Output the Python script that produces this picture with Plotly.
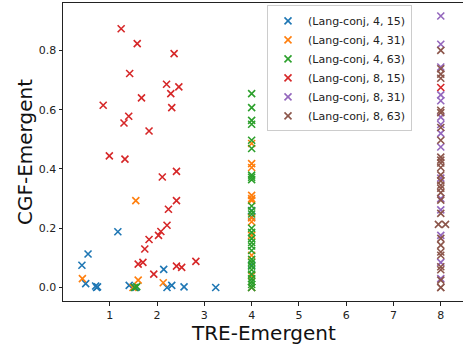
import plotly.graph_objects as go

# ---- data ----
names = ["(Lang-conj, 4, 15)", "(Lang-conj, 4, 31)", "(Lang-conj, 4, 63)",
         "(Lang-conj, 8, 15)", "(Lang-conj, 8, 31)", "(Lang-conj, 8, 63)"]
colors = ["#1f77b4", "#ff7f0e", "#2ca02c", "#d62728", "#9467bd", "#8c564b"]

blue_x = [0.41, 0.54, 0.49, 0.70, 0.72, 0.74, 1.17, 1.41, 1.55, 2.14, 2.21, 2.31, 2.57, 3.24, 4, 4, 4, 4]
blue_y = [0.075, 0.113, 0.013, 0.005, 0.0, 0.002, 0.188, 0.007, 0.0, 0.061, 0.0, 0.007, 0.002, 0.0,
          0.26, 0.238, 0.075, 0.0]

orange_x = [0.42, 1.55, 1.60, 2.13, 1.49] + [4] * 12
orange_y = [0.030, 0.293, 0.025, 0.016, 0.0,
            0.486, 0.418, 0.405, 0.311, 0.300, 0.294, 0.235, 0.222, 0.176, 0.109, 0.04, 0.0]

green_x = [1.52, 1.57] + [4] * 27
green_y = [0.0, 0.003,
           0.654, 0.607, 0.564, 0.551, 0.497, 0.469, 0.379, 0.372, 0.364, 0.275, 0.258, 0.248,
           0.20, 0.186, 0.165, 0.152, 0.14, 0.125, 0.095, 0.085, 0.072, 0.06, 0.045, 0.03,
           0.02, 0.01, 0.0]

red_x = [1.24, 1.58, 2.36, 1.42, 2.20, 2.46, 2.29, 1.67, 0.86, 2.31, 1.40, 1.30, 1.83, 0.99, 1.32,
         2.41, 2.11, 2.41, 2.24, 2.21, 2.08, 2.03, 1.83, 1.74, 1.70, 1.60, 1.93, 2.41, 2.52, 2.82, 8]
red_y = [0.873, 0.823, 0.789, 0.722, 0.686, 0.677, 0.654, 0.640, 0.615, 0.607, 0.578, 0.555, 0.528,
         0.444, 0.433, 0.392, 0.373, 0.293, 0.264, 0.210, 0.189, 0.176, 0.162, 0.130, 0.085, 0.079,
         0.045, 0.072, 0.068, 0.088, 0.675]

purple_x = [8] * 15
purple_y = [0.916, 0.821, 0.744, 0.65, 0.63, 0.575, 0.55, 0.52, 0.474, 0.369, 0.30, 0.262, 0.176,
            0.085, 0.03]

brown_x = [8] * 28 + [7.95, 8.10]
brown_y = [0.80, 0.738, 0.72, 0.706, 0.598, 0.59, 0.54, 0.497, 0.44, 0.43, 0.42, 0.405, 0.38, 0.36,
           0.345, 0.335, 0.32, 0.295, 0.25, 0.166, 0.143, 0.12, 0.109, 0.07, 0.06, 0.025, 0.0, 0.0,
           0.213, 0.213]

xs = [blue_x, orange_x, green_x, red_x, purple_x, brown_x]
ys = [blue_y, orange_y, green_y, red_y, purple_y, brown_y]

x_ticks = [1, 2, 3, 4, 5, 6, 7, 8]
y_ticks = [0.0, 0.2, 0.4, 0.6, 0.8]

FONT = "DejaVu Sans"
TXT = "#222222"

fig = go.Figure()
for name, c, x, y in zip(names, colors, xs, ys):
    fig.add_trace(go.Scatter(
        x=x, y=y, mode="markers", name=name,
        marker=dict(symbol="x-thin", size=7, color=c, line=dict(color=c, width=1.6)),
    ))

fig.update_layout(
    width=463, height=350,
    margin=dict(l=63, r=0, t=3, b=49),
    paper_bgcolor="white", plot_bgcolor="white",
    font=dict(family=FONT, size=11, color=TXT),
    showlegend=True,
    legend=dict(
        x=0.51, y=0.992, xanchor="left", yanchor="top",
        bgcolor="rgba(255,255,255,0.8)", bordercolor="#cccccc", borderwidth=1,
        font=dict(family=FONT, size=11, color=TXT),
    ),
    xaxis=dict(
        range=[0.01, 8.47], tickvals=x_ticks, ticktext=[str(v) for v in x_ticks],
        showgrid=False, zeroline=False, showline=True, linecolor=TXT, linewidth=1,
        mirror=True, ticks="outside", ticklen=3.5, tickwidth=1, tickcolor=TXT,
        tickfont=dict(family=FONT, size=11, color=TXT),
    ),
    yaxis=dict(
        range=[-0.0455, 0.96], tickvals=y_ticks, ticktext=["%.1f" % v for v in y_ticks],
        showgrid=False, zeroline=False, showline=True, linecolor=TXT, linewidth=1,
        mirror=False, ticks="outside", ticklen=3.5, tickwidth=1, tickcolor=TXT,
        tickfont=dict(family=FONT, size=11, color=TXT),
    ),
    annotations=[
        dict(text="TRE-Emergent", xref="paper", yref="paper", x=0.5, y=-0.107,
             xanchor="center", yanchor="middle", showarrow=False,
             font=dict(family=FONT, size=20, color="#111111")),
        dict(text="CGF-Emergent", xref="paper", yref="paper", x=-0.095, y=0.5,
             xanchor="center", yanchor="middle", showarrow=False, textangle=-90,
             font=dict(family=FONT, size=20, color="#111111")),
    ],
)

fig.write_html("out.html",
               config={"displayModeBar": False},
               post_script="document.body.style.margin='0';document.body.style.overflow='hidden';")
